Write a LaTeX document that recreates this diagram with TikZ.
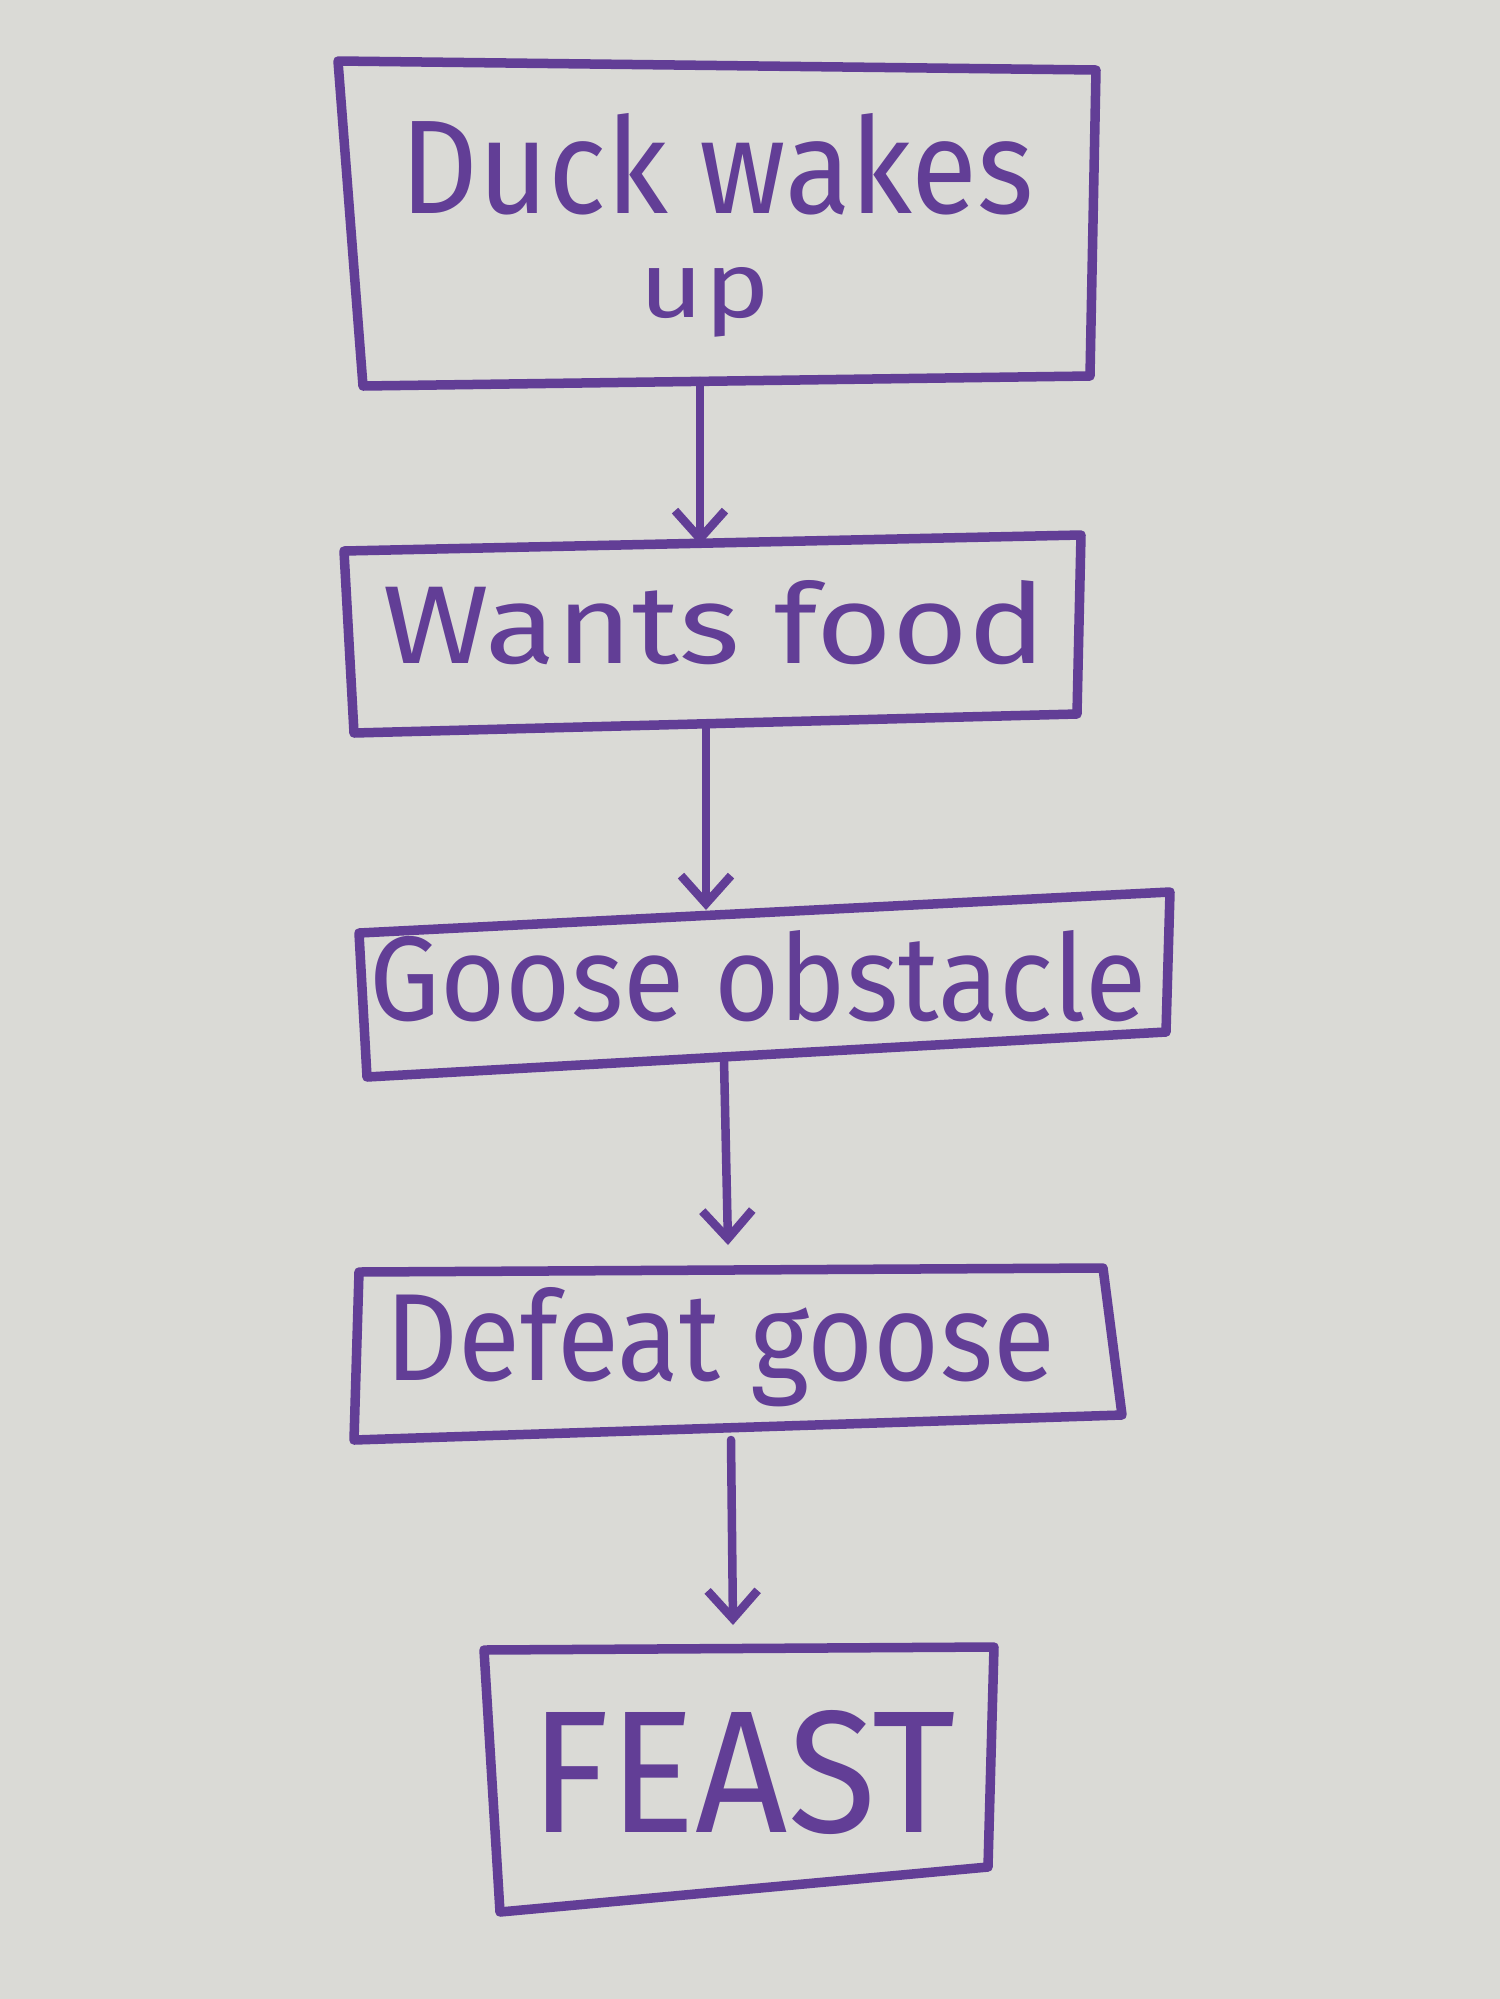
\documentclass[tikz,border=0pt]{standalone}
\usepackage{fontspec}
\setmainfont{Fira Sans}
\usetikzlibrary{arrows.meta}
\definecolor{board}{RGB}{218,218,214}
\definecolor{marker}{RGB}{98,62,150}
\newcommand{\hw}[3]{\resizebox{#1}{#2}{#3}}
\begin{document}
\begin{tikzpicture}[x=0.01cm,y=-0.01cm,
  box/.style={draw=marker,line width=0.095cm,line join=round,line cap=round},
  arr/.style={draw=marker,line width=0.085cm,line cap=round,
    -{Straight Barb[length=0.28cm,width=0.5cm,line width=0.085cm]}},
  txt/.style={anchor=base,inner sep=0pt,text=marker,font=\mdseries}]
\fill[board] (0,0) rectangle (1500,1999);
\useasboundingbox (0,0) rectangle (1500,1999);
% box 1
\coordinate (b1tl) at (338,61);  \coordinate (b1tr) at (1096,70);
\coordinate (b1br) at (1090,376); \coordinate (b1bl) at (363,386);
\draw[box] (b1tl) -- (b1tr) -- (b1br) -- (b1bl) -- cycle;
\node[txt] (t1a) at (717,213) {\hw{6.33cm}{1.0cm}{Duck wakes}};
\node[txt] (t1b) at (705,317) {\hw{1.3cm}{0.5cm}{up}};
% box 2
\coordinate (b2tl) at (344,551);  \coordinate (b2tr) at (1081,535);
\coordinate (b2br) at (1077,714); \coordinate (b2bl) at (354,733);
\draw[box] (b2tl) -- (b2tr) -- (b2br) -- (b2bl) -- cycle;
\node[txt] (t2) at (714,663) {\hw{6.63cm}{0.83cm}{Wants food}};
% box 3
\coordinate (b3tl) at (359,933);  \coordinate (b3tr) at (1170,892);
\coordinate (b3br) at (1166,1032); \coordinate (b3bl) at (367,1077);
\draw[box] (b3tl) -- (b3tr) -- (b3br) -- (b3bl) -- cycle;
\node[txt] (t3) at (758,1020) {\hw{7.77cm}{0.9cm}{Goose obstacle}};
% box 4
\coordinate (b4tl) at (359,1272);  \coordinate (b4tr) at (1103,1268);
\coordinate (b4br) at (1122,1415); \coordinate (b4bl) at (354,1440);
\draw[box] (b4tl) -- (b4tr) -- (b4br) -- (b4bl) -- cycle;
\node[txt] (t4) at (720,1380) {\hw{6.69cm}{0.93cm}{Defeat goose}};
% box 5
\coordinate (b5tl) at (484,1650);  \coordinate (b5tr) at (994,1647);
\coordinate (b5br) at (988,1867); \coordinate (b5bl) at (500,1912);
\draw[box] (b5tl) -- (b5tr) -- (b5br) -- (b5bl) -- cycle;
\node[txt] (t5) at (743,1832) {\hw{4.25cm}{1.22cm}{FEAST}};
% arrows
\coordinate (a1s) at (700,381); \coordinate (a1e) at (700,545);
\coordinate (a2s) at (706,726); \coordinate (a2e) at (706,910);
\coordinate (a3s) at (724,1060); \coordinate (a3e) at (728,1245);
\coordinate (a4s) at (731,1440); \coordinate (a4e) at (733,1625);
\draw[arr] (a1s) -- (a1e);
\draw[arr] (a2s) -- (a2e);
\draw[arr] (a3s) -- (a3e);
\draw[arr] (a4s) -- (a4e);
\end{tikzpicture}
\end{document}
